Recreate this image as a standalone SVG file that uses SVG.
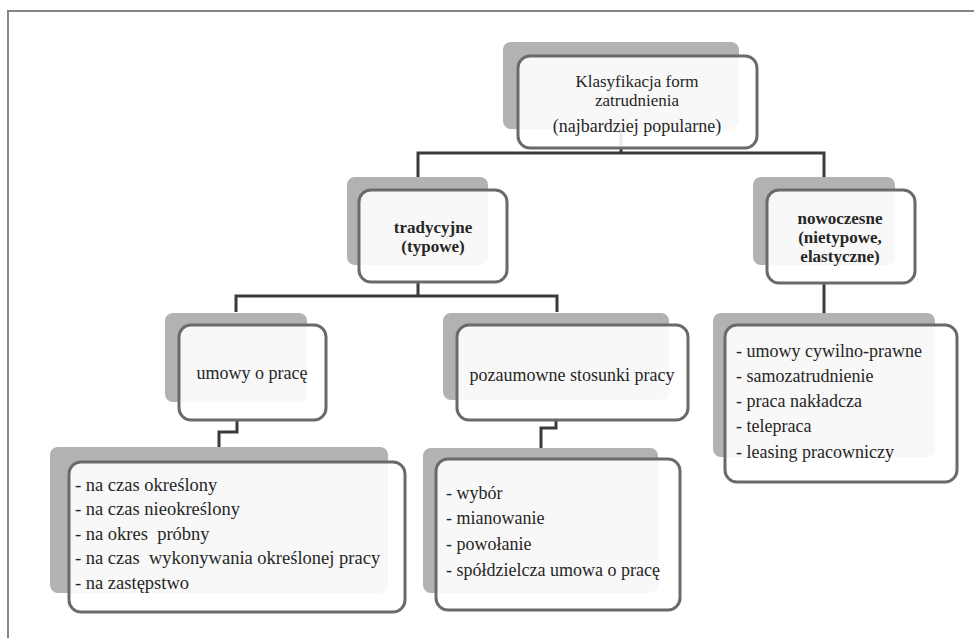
<svg xmlns="http://www.w3.org/2000/svg" width="974" height="638" viewBox="0 0 974 638">
<style>
.bg{fill:#ffffff}
.frame{stroke:#858585;stroke-width:2;fill:none}
.sh{fill:#b2b2b5}
.box{fill:#ffffff;fill-opacity:0.9;stroke:#6a6a6a;stroke-width:3}
.con{stroke:#3a3a3a;stroke-width:3;fill:none}
.t{font-family:"Liberation Serif","Times New Roman",serif;font-size:18px;fill:#262626}
.m{font-size:17px}
.l{font-size:18.5px}
.c{text-anchor:middle}
.b{font-weight:bold}
</style>
<rect class="bg" x="0" y="0" width="974" height="638"/>
<path class="frame" d="M8 638 V11 H974"/>
<g id="connectors">
<path class="con" d="M621 130 V153 M418 177 V153 H824 V177"/>
<path class="con" d="M418 282 V296 M236 312 V296 H557 V312"/>
<path class="con" d="M237 420 V432 H219 V447"/>
<path class="con" d="M556 420 V428 H541 V448"/>
<path class="con" d="M824 283 V313"/>
</g>
<g id="root">
<rect class="sh" x="503" y="42" width="236" height="87" rx="8"/>
<rect class="box" x="518" y="56" width="239" height="92" rx="12"/>
<text class="t m c" x="637" y="87">Klasyfikacja form</text>
<text class="t m c" x="637" y="106">zatrudnienia</text>
<text class="t c" x="637" y="132">(najbardziej popularne)</text>
</g>
<g id="tradycyjne">
<rect class="sh" x="347" y="177" width="141" height="88" rx="8"/>
<rect class="box" x="359" y="190" width="148" height="92" rx="12"/>
<text class="t m c b" x="433" y="233">tradycyjne</text>
<text class="t m c b" x="433" y="252">(typowe)</text>
</g>
<g id="nowoczesne">
<rect class="sh" x="753" y="177" width="142" height="88" rx="8"/>
<rect class="box" x="767" y="190" width="148" height="93" rx="12"/>
<text class="t m c b" x="840" y="224">nowoczesne</text>
<text class="t m c b" x="840" y="243">(nietypowe,</text>
<text class="t m c b" x="840" y="262">elastyczne)</text>
</g>
<g id="umowy">
<rect class="sh" x="165" y="313" width="142" height="89" rx="8"/>
<rect class="box" x="179" y="325" width="147" height="95" rx="12"/>
<text class="t c" x="252" y="379">umowy o pracę</text>
</g>
<g id="pozaumowne">
<rect class="sh" x="443" y="313" width="226" height="87" rx="8"/>
<rect class="box" x="457" y="325" width="231" height="95" rx="12"/>
<text class="t c" x="572" y="381">pozaumowne stosunki pracy</text>
</g>
<g id="lista-nowoczesne">
<rect class="sh" x="713" y="313" width="222" height="144" rx="8"/>
<rect class="box" x="725" y="325" width="232" height="157" rx="12"/>
<text class="t" x="736" y="357">- umowy cywilno-prawne</text>
<text class="t" x="736" y="382">- samozatrudnienie</text>
<text class="t" x="736" y="407">- praca nakładcza</text>
<text class="t" x="736" y="432">- telepraca</text>
<text class="t" x="736" y="458">- leasing pracowniczy</text>
</g>
<g id="lista-umowy">
<rect class="sh" x="50" y="447" width="338" height="146" rx="8"/>
<rect class="box" x="69" y="462" width="336" height="150" rx="12"/>
<text class="t l" x="75" y="491">- na czas określony</text>
<text class="t l" x="75" y="515">- na czas nieokreślony</text>
<text class="t l" x="75" y="540" xml:space="preserve">- na okres  próbny</text>
<text class="t l" x="75" y="564" xml:space="preserve">- na czas  wykonywania określonej pracy</text>
<text class="t l" x="75" y="589">- na zastępstwo</text>
</g>
<g id="lista-pozaumowne">
<rect class="sh" x="423" y="448" width="235" height="145" rx="8"/>
<rect class="box" x="436" y="459" width="244" height="151" rx="12"/>
<text class="t" x="446" y="499">- wybór</text>
<text class="t" x="446" y="524">- mianowanie</text>
<text class="t" x="446" y="550">- powołanie</text>
<text class="t" x="446" y="576">- spółdzielcza umowa o pracę</text>
</g>
</svg>
